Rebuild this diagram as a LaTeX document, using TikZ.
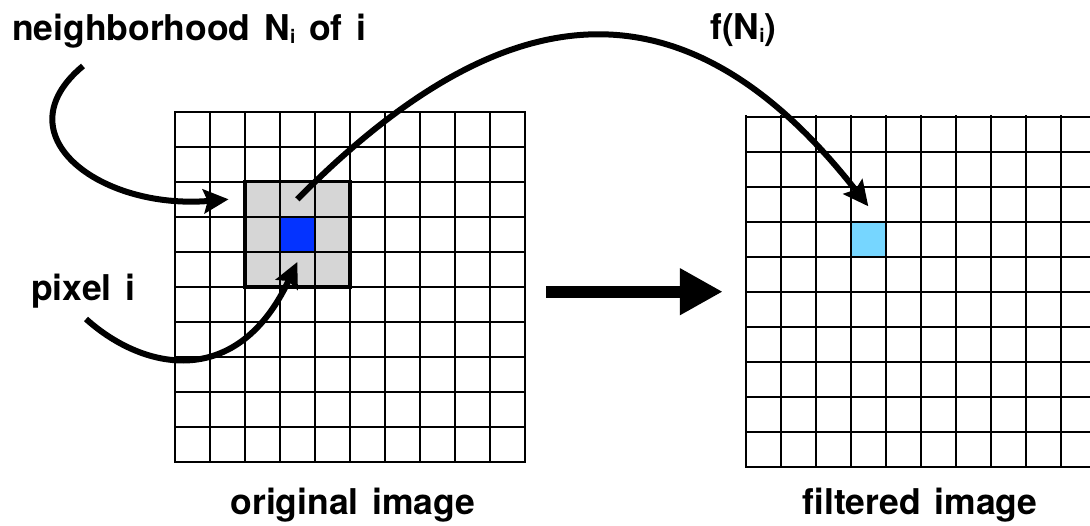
\documentclass[tikz,border=0pt]{standalone}
\usepackage{fontspec}
\setmainfont{TeX Gyre Heros}[WordSpace=1.4]
\usetikzlibrary{arrows.meta,positioning,calc}
\definecolor{cellgray}{HTML}{D6D6D6}
\definecolor{pixblue}{HTML}{0433FF}
\definecolor{pixcyan}{HTML}{76D6FF}
\newcommand{\subidx}{\raisebox{-3pt}{\fontsize{19}{19}\selectfont i}}

\begin{document}
\begin{tikzpicture}[
 x=1pt,y=1pt,
 caption/.style={inner sep=0pt,font=\fontsize{35.5}{40}\selectfont\bfseries},
 imgframe/.style={minimum width=350pt,minimum height=350pt,inner sep=0pt},
 cell/.style={minimum size=35pt,inner sep=0pt},
 gridline/.style={line width=2.5pt,line cap=rect},
 curved/.style={-{Stealth[length=25pt,width=24pt,inset=4pt]},line width=6pt},
 bigarrow/.style={-{Triangle[length=43pt,width=44pt]},line width=12pt}
]
\useasboundingbox (0,0) rectangle (1090,525);
\clip (0,0) rectangle (1090,525);
\node[imgframe] (orig) at (350,238) {};
\node[imgframe] (filt) at (921,233.3) {};
\node[cell,minimum size=105pt,fill=cellgray] (nbhd) at ($(orig.north west)+(122.5,-122.5)$) {};
\node[cell,fill=pixblue] (inpix) at (nbhd.center) {};
\node[cell,fill=pixcyan] (outpix) at ($(filt.north west)+(122.5,-122.5)$) {};
\foreach \k in {0,...,10} {
  \draw[gridline] ($(orig.south west)+(35*\k,0)$) -- ($(orig.north west)+(35*\k,0)$);
  \draw[gridline] ($(orig.south west)+(0,35*\k)$) -- ($(orig.south east)+(0,35*\k)$);
  \draw[gridline] ($(filt.south west)+(35*\k,0)$) -- ($(filt.north west)+(35*\k,0)$);
  \draw[gridline] ($(filt.south west)+(0,35*\k)$) -- ($(filt.south east)+(0,35*\k)$);
}
\draw[line width=3.8pt] (nbhd.south west) rectangle (nbhd.north east);

\node[caption,anchor=base west] (nbLabel) at (12,484) {neighborhood N\subidx{} of i};
\node[caption,anchor=base west] (fLabel) at (710,485) {f(N\subidx)};
\node[caption,anchor=base west] (pixLabel) at (31,224) {pixel i};
\node[caption,anchor=base] (origLabel) at (353,10) {original image};
\node[caption,anchor=base] (filtLabel) at (920,10) {filtered image};

\coordinate (nbTail) at (83,459);
\coordinate (pixTail) at (86,206);
\draw[curved] (nbTail) .. controls (0,390) and (100,315) .. ($(nbhd.west)+(-16,35)$);
\draw[curved] ($(inpix)+(0,35)$) .. controls (487,517) and (672,569.5) .. ([yshift=15pt]outpix.north);
\draw[curved] (pixTail) .. controls (145,153) and (238,136) .. ([yshift=-10pt]inpix.south);
\draw[bigarrow] ($(orig.east |- filt.west)+(21,0)$) -- ($(filt.west)+(-23,0)$);
\end{tikzpicture}
\end{document}
